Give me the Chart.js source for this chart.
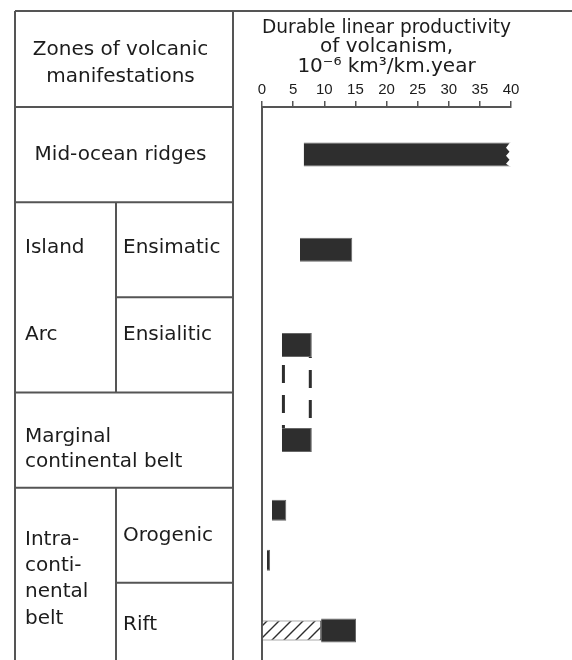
<!DOCTYPE html>
<html>
<head>
<meta charset="utf-8">
<title>Volcanic productivity by zone</title>
<script src="https://cdn.jsdelivr.net/npm/chart.js@4"></script>
<style>
  html, body { margin: 0; padding: 0; background: #fff; }
  #wrap { position: relative; width: 572px; height: 660px; overflow: hidden; }
</style>
</head>
<body>
<div id="wrap"><canvas id="zonesChart" width="572" height="690"></canvas></div>
<script>
// zones, one per table row
const zones = ['Mid-ocean ridges', 'Ensimatic', 'Ensialitic', 'Marginal continental belt', 'Orogenic', 'Rift'];

// productivity range for each zone, 10^-6 km3/km.year
const barFrom = [6.7, 6.1, 3.2, 3.2, 1.6, 9.5];
const barTo   = [40, 14.5, 8.0, 8.0, 3.9, 15.1];

// second, smaller orogenic estimate
const orogenicLow = [0.8, 1.3];
// rift part shown hatched
const riftHatched = [0, 9.5];

const xMin = 0, xMax = 40, xStep = 5;
const axisTitle = ['Durable linear productivity', 'of volcanism,', '10\u207B\u2076 km\u00B3/km.year'];

const ink = '#2e2e2e';
const rule = '#555';
const textColor = '#1c1c1c';
const textFont = '20px "DejaVu Sans"';

function hatchPattern() {
    const c = document.createElement('canvas');
    c.width = 12; c.height = 12;
    const g = c.getContext('2d');
    g.fillStyle = '#fff';
    g.fillRect(0, 0, 12, 12);
    g.strokeStyle = ink;
    g.lineWidth = 1.4;
    g.beginPath();
    g.moveTo(0, 12); g.lineTo(12, 0);
    g.moveTo(-2, 2); g.lineTo(2, -2);
    g.moveTo(10, 14); g.lineTo(14, 10);
    g.stroke();
    return g.createPattern(c, 'repeat');
}

const onlyAt = (idx, pair) => zones.map((z, i) => i === idx ? pair : null);

// table of zones drawn on the left, rows follow the category scale
const zoneTable = {
    id: 'zoneTable',
    beforeDraw(chart) {
        const { ctx, scales: { y } } = chart;
        const mid = i => y.getPixelForValue(i);
        const half = (mid(1) - mid(0)) / 2;
        const edge = i => mid(i) - half;
        const L = 15, R = 233, C = 116, T = 11, B = chart.height;

        ctx.save();
        ctx.strokeStyle = rule;
        ctx.lineWidth = 2;
        const line = (x1, y1, x2, y2) => {
            ctx.beginPath(); ctx.moveTo(x1, y1); ctx.lineTo(x2, y2); ctx.stroke();
        };
        line(L, T, chart.width, T);
        line(L, T, L, B);
        line(R, T, R, B);
        line(L, edge(0), R, edge(0));
        line(L, edge(1), R, edge(1));
        line(C, edge(1), C, edge(3));
        line(C, edge(2), R, edge(2));
        line(L, edge(3), R, edge(3));
        line(L, edge(4), R, edge(4));
        line(C, edge(4), C, B);
        line(C, edge(5), R, edge(5));

        ctx.fillStyle = textColor;
        ctx.font = textFont;
        ctx.textBaseline = 'alphabetic';
        const put = (s, x, yy, align) => { ctx.textAlign = align || 'left'; ctx.fillText(s, x, yy); };

        put('Zones of volcanic', 120.5, 55, 'center');
        put('manifestations', 120.5, 81.5, 'center');
        put('Mid-ocean ridges', 120.5, mid(0) + 5, 'center');
        put('Island', 25, mid(1) + 3);
        put('Ensimatic', 123, mid(1) + 3);
        put('Arc', 25, mid(2) - 5);
        put('Ensialitic', 123, mid(2) - 5);
        put('Marginal', 25, mid(3) + 1.5);
        put('continental belt', 25, mid(3) + 27);
        ['Intra-', 'conti-', 'nental', 'belt'].forEach((s, k) => put(s, 25, edge(5) - 38 + k * 26.3));
        put('Orogenic', 123, mid(4) + 6);
        put('Rift', 123, mid(5));
        ctx.restore();
    }
};

// dashed link between the ensialitic and marginal bars, and the break on the ridge bar
const barMarks = {
    id: 'barMarks',
    afterDatasetsDraw(chart) {
        const { ctx } = chart;
        const bars = chart.getDatasetMeta(0).data;
        const a = bars[2], b = bars[3];
        const y1 = a.y + a.height / 2, y2 = b.y - b.height / 2;

        ctx.save();
        ctx.strokeStyle = ink;
        ctx.lineWidth = 3;
        ctx.setLineDash([18, 12]);
        ctx.lineDashOffset = 22;
        ctx.beginPath(); ctx.moveTo(a.base + 1.5, y1); ctx.lineTo(a.base + 1.5, y2); ctx.stroke();
        ctx.lineDashOffset = 17;
        ctx.beginPath(); ctx.moveTo(a.x - 1.5, y1); ctx.lineTo(a.x - 1.5, y2); ctx.stroke();

        // break symbol on the right end of the mid-ocean ridge bar
        const r = bars[0];
        const top = r.y - r.height / 2, h = r.height, xr = r.x;
        ctx.setLineDash([]);
        ctx.fillStyle = '#fff';
        ctx.beginPath();
        ctx.moveTo(xr + 2, top - 1);
        ctx.lineTo(xr - 1, top);
        ctx.lineTo(xr - 5, top + h * 0.22);
        ctx.lineTo(xr - 1.5, top + h * 0.38);
        ctx.lineTo(xr - 5, top + h * 0.55);
        ctx.lineTo(xr - 1.5, top + h * 0.72);
        ctx.lineTo(xr - 5, top + h * 0.88);
        ctx.lineTo(xr - 1, top + h);
        ctx.lineTo(xr + 2, top + h + 1);
        ctx.closePath();
        ctx.fill();
        ctx.restore();
    }
};

const data = {
    labels: zones,
    datasets: [{
        label: 'Productivity',
        data: zones.map((z, i) => [barFrom[i], barTo[i]]),
        backgroundColor: ink,
        borderColor: '#666',
        borderWidth: 1
    }, {
        label: 'Orogenic, low estimate',
        data: onlyAt(4, orogenicLow),
        backgroundColor: ink,
        borderColor: '#666',
        borderWidth: 1
    }, {
        label: 'Rift, hatched part',
        data: onlyAt(5, riftHatched),
        backgroundColor: hatchPattern(),
        borderColor: rule,
        borderWidth: 1,
        grouped: false,
        maxBarThickness: 20
    }]
};

const config = {
    type: 'bar',
    data: data,
    options: {
        indexAxis: 'y',
        responsive: false,
        animation: false,
        devicePixelRatio: 1,
        layout: { padding: { left: 0, top: 0, right: 61, bottom: 12 } },
        datasets: {
            bar: {
                skipNull: true,
                categoryPercentage: 1.05,
                barPercentage: 0.42,
                maxBarThickness: 24
            }
        },
        plugins: {
            legend: { display: false },
            tooltip: { enabled: false }
        },
        scales: {
            x: {
                type: 'linear',
                position: 'top',
                min: xMin,
                max: xMax,
                afterFit: s => { s.height = 107; },
                ticks: {
                    stepSize: xStep,
                    color: textColor,
                    padding: 2,
                    font: { family: 'Liberation Sans', size: 15 }
                },
                grid: { drawOnChartArea: false, tickLength: 6, color: rule, lineWidth: 1.5 },
                border: { display: true, color: rule, width: 2 },
                title: {
                    display: true,
                    text: axisTitle,
                    color: textColor,
                    font: { family: 'DejaVu Sans', size: 20, lineHeight: 0.975 },
                    padding: { top: 18, bottom: 0 }
                }
            },
            y: {
                type: 'category',
                position: 'left',
                afterFit: s => { s.width = 262; },
                ticks: { display: false },
                grid: { display: false, drawTicks: false },
                border: { display: true, color: rule, width: 2 }
            }
        }
    },
    plugins: [zoneTable, barMarks]
};

window.zoneChart = new Chart(document.getElementById('zonesChart'), config);
</script>
</body>
</html>
